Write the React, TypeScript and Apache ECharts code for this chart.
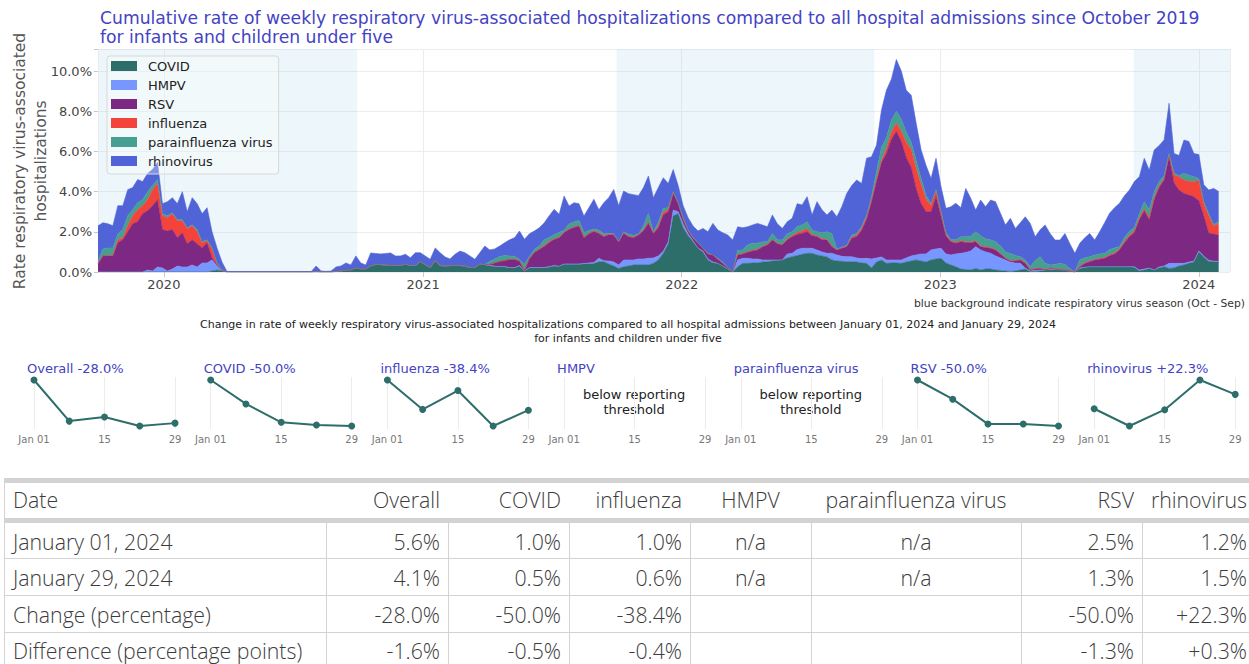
import React, { useEffect, useRef } from 'react';
import * as echarts from 'echarts';

// ---------- main chart data (weekly, first week = 2019-09-30) ----------
const FIRST_WEEK = [2019, 8, 30];
const AXIS_START = [2019, 8, 30];
const AXIS_END = [2024, 1, 14];

const covid = [
  0, 0, 0, 0, 0, 0, 0, 0, 0, 0,
  0, 0, 0, 0, 0, 0, 0, 0, 0, 0,
  0, 0, 0, 0.05, 0.1, 0.05, 0, 0, 0, 0,
  0, 0, 0, 0, 0, 0, 0, 0, 0, 0,
  0, 0, 0, 0, 0.02, 0, 0, 0, 0.03, 0.05,
  0.1, 0.1, 0.2, 0.15, 0.15, 0.3, 0.35, 0.35, 0.32, 0.3,
  0.3, 0.3, 0.38, 0.3, 0.3, 0.5, 0.35, 0.2, 0.55, 0.3,
  0.28, 0.3, 0.3, 0.3, 0.28, 0.2, 0.2, 0.38, 0.35, 0.3,
  0.28, 0.25, 0.25, 0.2, 0.2, 0.3, 0.05, 0.2, 0.2, 0.2,
  0.2, 0.25, 0.3, 0.27, 0.38, 0.38, 0.38, 0.38, 0.4, 0.4,
  0.42, 0.51, 0.51, 0.4, 0.3, 0.18, 0.26, 0.3, 0.35, 0.35,
  0.35, 0.35, 0.43, 0.6, 0.93, 1.4, 2.8, 2.9, 2.2, 1.8,
  1.51, 1.18, 1.0, 0.6, 0.45, 0.43, 0.3, 0.15, 0, 0.26,
  0.43, 0.43, 0.45, 0.45, 0.5, 0.51, 0.55, 0.58, 0.6, 0.7,
  0.76, 0.82, 0.88, 0.93, 0.93, 0.85, 0.8, 0.75, 0.6, 0.55,
  0.53, 0.51, 0.51, 0.5, 0.45, 0.43, 0.2, 0.5, 0.6, 0.43,
  0.45, 0.45, 0.43, 0.5, 0.55, 0.6, 0.55, 0.5, 0.6, 0.65,
  0.68, 0.45, 0.35, 0.26, 0.15, 0.12, 0.1, 0.18, 0.1, 0.15,
  0.15, 0.1, 0.08, 0.05, 0.03, 0.05, 0.1, 0.15, 0.02, 0.03,
  0.05, 0.1, 0.1, 0.1, 0.1, 0.08, 0.04, 0, 0.18, 0.22,
  0.26, 0.26, 0.26, 0.26, 0.26, 0.26, 0.26, 0.26, 0.26, 0.24,
  0.05, 0.1, 0.18, 0.1, 0.2, 0.26, 0.18, 0.2, 0.3, 0.35,
  0.43, 0.5, 1.0, 0.74, 0.54, 0.51, 0.5,
];

const hmpv = [
  0, 0, 0, 0, 0, 0, 0, 0, 0, 0,
  0.1, 0.05, 0.25, 0.2, 0.05, 0.15, 0.3, 0.25, 0.25, 0.35,
  0.25, 0.45, 0.45, 0.55, 0.2, 0.02, 0, 0, 0, 0,
  0, 0, 0, 0, 0, 0, 0, 0, 0, 0,
  0, 0, 0, 0, 0, 0, 0, 0, 0, 0,
  0, 0, 0, 0, 0, 0, 0.02, 0.03, 0.03, 0.03,
  0.03, 0.02, 0.02, 0.02, 0.02, 0.02, 0.02, 0.02, 0.02, 0.02,
  0.02, 0.02, 0.02, 0.02, 0.02, 0.02, 0.02, 0.02, 0.02, 0.02,
  0.02, 0.02, 0.02, 0.02, 0.02, 0.02, 0, 0.02, 0.02, 0.02,
  0.02, 0.02, 0.02, 0.02, 0.02, 0.02, 0.02, 0.02, 0.02, 0.05,
  0.05, 0.17, 0.05, 0.15, 0.2, 0.17, 0.34, 0.3, 0.25, 0.3,
  0.3, 0.33, 0.27, 0.2, 0.1, 0.1, 0.28, 0.1, 0.2, 0.1,
  0.04, 0.02, 0.05, 0.05, 0.05, 0, 0, 0, 0, 0.34,
  0.25, 0.25, 0.2, 0.2, 0.1, 0.09, 0.05, 0.02, 0, 0.2,
  0.17, 0.3, 0.3, 0.25, 0.25, 0.24, 0.2, 0.18, 0.33, 0.3,
  0.25, 0.25, 0.25, 0.2, 0.22, 0.25, 0.45, 0.2, 0.15, 0.17,
  0.15, 0.15, 0.17, 0.2, 0.25, 0.25, 0.35, 0.4, 0.5, 0.5,
  0.5, 0.45, 0.5, 0.64, 0.78, 0.85, 0.95, 1.08, 1.0, 0.85,
  0.78, 0.7, 0.62, 0.55, 0.45, 0.4, 0.33, 0.05, 0.03, 0.05,
  0.05, 0, 0.02, 0.02, 0, 0, 0, 0, 0.02, 0.02,
  0, 0, 0, 0, 0, 0, 0, 0, 0, 0.02,
  0.05, 0.05, 0.02, 0, 0.05, 0.04, 0.25, 0.23, 0.13, 0.08,
  0.07, 0.05, 0.05, 0.05, 0.05, 0.03, 0.03,
];

const rsv = [
  0.4, 0.8, 0.8, 0.8, 1.45, 1.6, 2.0, 2.4, 2.5, 2.9,
  2.95, 3.25, 3.35, 1.9, 2.0, 1.95, 1.4, 1.7, 1.15, 1.25,
  1.15, 0.75, 1.0, 0.1, 0.05, 0.01, 0, 0, 0, 0,
  0, 0, 0, 0, 0, 0, 0, 0, 0, 0,
  0, 0, 0, 0, 0, 0, 0, 0, 0, 0,
  0, 0, 0, 0, 0, 0, 0, 0, 0, 0,
  0, 0, 0, 0, 0, 0, 0, 0, 0, 0,
  0, 0, 0, 0, 0, 0, 0, 0, 0, 0.05,
  0.15, 0.25, 0.3, 0.4, 0.4, 0.23, 0, 0.45, 0.75, 0.9,
  1.05, 1.2, 1.3, 1.42, 1.56, 1.72, 1.82, 1.89, 1.29, 1.45,
  1.55, 1.24, 1.2, 1.3, 1.34, 1.16, 1.32, 1.15, 1.1, 1.19,
  1.4, 1.74, 1.22, 1.4, 1.81, 1.5, 0.83, 0.4, 0.2, 0.15,
  0.13, 0.23, 0.13, 0.25, 0.35, 0.2, 0.13, 0.05, 0, 0.25,
  0.22, 0.3, 0.4, 0.45, 0.65, 0.74, 0.99, 0.8, 0.74, 0.7,
  0.83, 0.75, 0.74, 0.82, 0.62, 0.67, 0.6, 0.66, 0.33, 0.24,
  0.4, 0.5, 0.92, 1.06, 1.4, 1.95, 2.85, 3.8, 4.7, 5.3,
  6.0, 6.4, 5.9, 5.0, 4.4, 3.3, 2.5, 2.1, 1.9, 2.6,
  1.6, 0.9, 0.66, 0.53, 0.58, 0.5, 0.4, 0.25, 0.16, 0.22,
  0.25, 0.29, 0.2, 0.08, 0.06, 0.1, 0.17, 0.23, 0.05, 0.07,
  0.08, 0, 0.06, 0.03, 0, 0.02, 0.02, 0, 0.06, 0.18,
  0.25, 0.34, 0.38, 0.42, 0.55, 0.64, 0.83, 1.2, 1.5, 1.7,
  2.5, 2.9, 2.4, 3.5, 3.95, 4.28, 5.31, 4.0, 3.65, 3.48,
  3.33, 3.2, 2.5, 2.0, 1.35, 1.35, 1.3,
];

const influenza = [
  0.05, 0, 0.02, 0.02, 0.15, 0.1, 0.3, 0.4, 0.6, 0.4,
  0.55, 0.8, 0.8, 0.7, 0.65, 0.8, 0.85, 0.6, 0.75, 0.7,
  0.6, 0.25, 0.1, 0.45, 0.05, 0.02, 0, 0, 0, 0,
  0, 0, 0, 0, 0, 0, 0, 0, 0, 0,
  0, 0, 0, 0, 0, 0, 0, 0, 0, 0,
  0, 0, 0, 0, 0, 0, 0, 0, 0, 0,
  0, 0, 0, 0, 0, 0, 0, 0, 0, 0,
  0, 0, 0, 0, 0, 0, 0, 0, 0, 0,
  0, 0, 0, 0, 0, 0, 0, 0, 0, 0.03,
  0.06, 0.05, 0.03, 0.02, 0.02, 0.02, 0.02, 0.02, 0.02, 0.02,
  0.02, 0.03, 0.03, 0.02, 0.02, 0, 0.03, 0.03, 0.03, 0,
  0.05, 0.05, 0.03, 0.08, 0.13, 0.1, 0.05, 0.02, 0.02, 0,
  0, 0, 0, 0, 0, 0, 0, 0, 0, 0.02,
  0.02, 0.02, 0.03, 0.03, 0.03, 0.03, 0.03, 0.03, 0.03, 0.05,
  0.05, 0.1, 0.12, 0.15, 0.05, 0.05, 0.05, 0.03, 0.03, 0,
  0.02, 0.02, 0.05, 0.08, 0.1, 0.1, 0.1, 0.1, 0.1, 0.25,
  0.35, 0.4, 0.5, 0.75, 0.9, 1.0, 0.95, 0.6, 0.35, 0.3,
  0.2, 0.05, 0.04, 0.05, 0.04, 0.04, 0.04, 0.04, 0.04, 0.04,
  0.04, 0.03, 0.03, 0.02, 0.03, 0.02, 0.02, 0.02, 0, 0.02,
  0.02, 0.02, 0.02, 0.02, 0.02, 0.02, 0.01, 0, 0.04, 0.04,
  0.04, 0.02, 0.03, 0.04, 0.05, 0.05, 0.06, 0.06, 0.07, 0.08,
  0.1, 0.1, 0.1, 0.1, 0.1, 0.05, 0.06, 0.4, 0.66, 0.67,
  0.67, 0.75, 1.0, 0.61, 0.86, 0.39, 0.6,
];

const parainfluenza = [
  0.1, 0.35, 0.38, 0.38, 0.3, 0.4, 0.5, 0.3, 0.35, 0.3,
  0.4, 0.2, 0.2, 0.1, 0.1, 0.05, 0.05, 0.05, 0.05, 0.05,
  0.1, 0.05, 0.05, 0.05, 0.05, 0, 0, 0, 0, 0,
  0, 0, 0, 0, 0, 0, 0, 0, 0, 0,
  0, 0, 0, 0, 0, 0, 0, 0, 0, 0,
  0, 0, 0, 0, 0, 0, 0, 0, 0, 0,
  0, 0, 0, 0, 0, 0, 0, 0, 0, 0,
  0, 0, 0, 0, 0, 0, 0, 0, 0, 0.15,
  0.2, 0.25, 0.25, 0.18, 0.17, 0.08, 0.33, 0.1, 0.15, 0.15,
  0.28, 0.2, 0.2, 0.25, 0.1, 0.25, 0.25, 0.25, 0.23, 0.15,
  0.1, 0.14, 0.11, 0.05, 0.05, 0.02, 0.05, 0.1, 0.1, 0.05,
  0.2, 0.45, 0.05, 0.2, 0.2, 0.1, 0.04, 0.03, 0.08, 0.05,
  0.04, 0.02, 0.02, 0.05, 0, 0.05, 0.07, 0.03, 0, 0.22,
  0.18, 0.35, 0.35, 0.3, 0.22, 0.14, 0.3, 0.17, 0.22, 0.25,
  0.19, 0.3, 0.3, 0.35, 0.24, 0.19, 0.3, 0.38, 0.63, 0.05,
  0.05, 0.05, 0.11, 0.08, 0.1, 0.1, 0.15, 0.4, 0.65, 0.55,
  0.6, 0.6, 0.6, 0.5, 0.35, 0.4, 0.3, 0.2, 0.05, 0.05,
  0.05, 0.1, 0.05, 0.12, 0.2, 0.25, 0.3, 0.45, 0.5, 0.4,
  0.38, 0.38, 0.37, 0.3, 0.35, 0.25, 0.14, 0.15, 0.16, 0.4,
  0.56, 0.31, 0.15, 0.2, 0.31, 0.25, 0.1, 0, 0.3, 0.25,
  0.21, 0.23, 0.23, 0.21, 0.26, 0.25, 0.11, 0.2, 0.2, 0.17,
  0.2, 0.35, 0.4, 0.3, 0.2, 0.17, 0.1, 0.1, 0.05, 0.33,
  0.32, 0.24, 0.1, 0.1, 0.1, 0.08, 0.08,
];

const rhinovirus = [
  1.75, 1.3, 1.2, 1.1, 1.4, 1.2, 1.3, 1.1, 1.15, 0.9,
  0.9, 0.8, 0.85, 0.5, 0.7, 0.75, 0.8, 1.4, 0.8, 1.35,
  1.3, 1.4, 1.6, 0.8, 0.75, 0.4, 0.03, 0.02, 0.02, 0.02,
  0.02, 0.02, 0.02, 0.02, 0.02, 0.02, 0.02, 0.02, 0.02, 0.02,
  0.02, 0.02, 0.02, 0.02, 0.28, 0.05, 0.03, 0.05, 0.22, 0.25,
  0.35, 0.25, 0.6, 0.3, 0.2, 0.65, 0.55, 0.52, 0.57, 0.62,
  0.47, 0.48, 0.48, 0.39, 0.64, 0.44, 0.43, 0.41, 0.63, 0.64,
  0.45, 0.33, 0.56, 0.72, 0.66, 0.58, 0.41, 0.56, 0.92, 0.58,
  0.5, 0.52, 0.63, 0.8, 0.92, 1.41, 1.25, 1.13, 0.92, 0.9,
  0.84, 1.08, 1.27, 0.89, 1.7, 0.89, 0.96, 0.84, 0.83, 1.13,
  1.48, 1.01, 1.55, 1.78, 2.2, 1.77, 2.03, 2.02, 2.02, 1.91,
  1.9, 1.86, 1.7, 1.72, 1.52, 1.2, 1.1, 0.85, 0.6, 0.6,
  0.57, 0.59, 0.97, 1.05, 1.57, 1.41, 1.45, 1.61, 1.59, 1.16,
  1.1, 0.9, 0.91, 0.99, 0.84, 0.74, 0.92, 0.8, 0.58, 0.6,
  0.67, 1.13, 1.0, 1.25, 0.75, 1.5, 1.15, 0.84, 1.16, 1.61,
  2.0, 2.58, 2.46, 2.66, 2.14, 2.83, 1.99, 1.32, 1.86, 2.35,
  2.05, 2.58, 2.4, 2.1, 2.35, 1.85, 1.42, 1.5, 1.26, 1.56,
  1.22, 1.22, 1.65, 1.82, 1.45, 2.4, 1.88, 1.08, 1.78, 1.59,
  1.98, 2.0, 1.62, 1.34, 1.75, 1.35, 1.69, 2.15, 2.16, 1.19,
  1.34, 1.91, 1.57, 1.22, 1.16, 1.55, 1.23, 0.93, 0.83, 0.99,
  1.16, 0.74, 1.1, 1.52, 1.8, 2.0, 2.16, 2.08, 2.05, 2.29,
  1.84, 2.16, 1.97, 2.07, 1.8, 1.77, 2.5, 0.97, 1.01, 1.66,
  1.68, 1.16, 1.2, 0.84, 1.18, 1.8, 1.5,
];

const seriesNames = ['COVID', 'HMPV', 'RSV', 'influenza', 'parainfluenza virus', 'rhinovirus'];
const seriesColors = ['#2e6e6a', '#7896ff', '#7d2882', '#f4433a', '#46a091', '#5064d7'];

// respiratory virus seasons (Oct - Sep)
const seasonStarts = [[2019, 9, 1], [2021, 9, 1], [2023, 9, 1]];
const seasonEnds = [[2020, 8, 30], [2022, 8, 30], [2024, 8, 30]];

const yTickValues = [0, 2, 4, 6, 8, 10];

// ---------- sparklines (Jan 01 .. Jan 29, 2024) ----------
const sparkDays = [0, 7, 14, 21, 28];
const sparkTitles = ['Overall -28.0%', 'COVID -50.0%', 'influenza -38.4%', 'HMPV', 'parainfluenza virus', 'RSV -50.0%', 'rhinovirus +22.3%'];
const sparkOverall = [5.6, 4.17, 4.31, 4.0, 4.1];
const sparkCovid = [1.0, 0.74, 0.54, 0.51, 0.5];
const sparkInfluenza = [1.0, 0.61, 0.86, 0.39, 0.6];
const sparkRsv = [2.5, 2.0, 1.35, 1.35, 1.3];
const sparkRhinovirus = [1.2, 0.84, 1.18, 1.8, 1.5];

// ---------- table ----------
const tableHeader = ['Date', 'Overall', 'COVID', 'influenza', 'HMPV', 'parainfluenza virus', 'RSV', 'rhinovirus'];
const rowJan01 = ['January 01, 2024', '5.6%', '1.0%', '1.0%', 'n/a', 'n/a', '2.5%', '1.2%'];
const rowJan29 = ['January 29, 2024', '4.1%', '0.5%', '0.6%', 'n/a', 'n/a', '1.3%', '1.5%'];
const rowChange = ['Change (percentage)', '-28.0%', '-50.0%', '-38.4%', '', '', '-50.0%', '+22.3%'];
const rowDifference = ['Difference (percentage points)', '-1.6%', '-0.5%', '-0.4%', '', '', '-1.3%', '+0.3%'];

const FONT = 'DejaVu Sans';
const TABLE_FONT = 'Open Sans';
const TITLE_BLUE = '#4343c4';

function ts(d: number[]) {
  return new Date(d[0], d[1], d[2]).getTime();
}

export default function App() {
  const ref = useRef<HTMLDivElement>(null);

  useEffect(() => {
    document.body.style.margin = '0';
    if (!ref.current) return;
    const chart = echarts.init(ref.current, undefined, { renderer: 'svg' });

    const weekDates = covid.map((_, i) => new Date(FIRST_WEEK[0], FIRST_WEEK[1], FIRST_WEEK[2] + 7 * i).getTime());
    const layers = [covid, hmpv, rsv, influenza, parainfluenza, rhinovirus];

    const grids: any[] = [{ left: 98, top: 49, width: 1132, height: 223 }];
    const xAxes: any[] = [
      {
        type: 'time',
        gridIndex: 0,
        min: ts(AXIS_START),
        max: ts(AXIS_END),
        minInterval: 364 * 86400000,
        maxInterval: 367 * 86400000,
        axisLine: { show: false },
        axisTick: { show: true, length: 5, lineStyle: { color: '#c8c8c8' } },
        axisLabel: { formatter: '{yyyy}', fontSize: 13, color: '#444', margin: 6, fontFamily: FONT, showMinLabel: false, showMaxLabel: false },
        splitLine: { show: true, lineStyle: { color: '#ececec' } },
      },
    ];
    const yAxes: any[] = [
      {
        type: 'value',
        gridIndex: 0,
        min: 0,
        max: 11.1,
        interval: 2,
        axisLine: { show: false },
        axisTick: { show: true, length: 4, lineStyle: { color: '#c8c8c8' } },
        axisLabel: {
          fontSize: 13,
          color: '#444',
          margin: 6,
          fontFamily: FONT,
          formatter: (v: number) => (yTickValues.indexOf(v) >= 0 ? v.toFixed(1) + '%' : ''),
        },
        splitLine: { show: true, lineStyle: { color: '#ececec' } },
      },
    ];

    const series: any[] = [];
    series.push({
      type: 'custom',
      xAxisIndex: 0,
      yAxisIndex: 0,
      z: 1,
      silent: true,
      data: seasonStarts.map((s, i) => [ts(s), ts(seasonEnds[i]), 0]),
      encode: { x: [0, 1], y: 2 },
      renderItem: (params: any, api: any) => {
        const cs = params.coordSys;
        const a = api.coord([api.value(0), 0]);
        const b = api.coord([api.value(1), 0]);
        const x1 = Math.max(a[0], cs.x);
        const x2 = Math.min(b[0], cs.x + cs.width);
        if (x2 <= x1) return null;
        return {
          type: 'rect',
          shape: { x: x1, y: cs.y, width: x2 - x1, height: cs.height },
          style: { fill: 'rgba(173,216,230,0.22)' },
        };
      },
    });

    layers.forEach((arr, k) => {
      series.push({
        name: seriesNames[k],
        type: 'line',
        xAxisIndex: 0,
        yAxisIndex: 0,
        stack: 'total',
        z: 2,
        symbol: 'none',
        showSymbol: false,
        smooth: false,
        color: seriesColors[k],
        lineStyle: { width: 0.6, color: seriesColors[k] },
        areaStyle: { color: seriesColors[k], opacity: 1 },
        emphasis: { disabled: true },
        data: arr.map((v, i) => [weekDates[i], v]),
      });
    });

    const sparkValues = [sparkOverall, sparkCovid, sparkInfluenza, null, null, sparkRsv, sparkRhinovirus];
    const PANEL_STEP = 176.7;
    const graphics: any[] = [];

    sparkValues.forEach((vals, i) => {
      const gi = i + 1;
      const left = 34 + PANEL_STEP * i;
      grids.push({ left, top: 377, width: 141, height: 52 });
      xAxes.push({
        type: 'value',
        gridIndex: gi,
        min: 0,
        max: 28,
        interval: 14,
        axisLine: { show: false },
        axisTick: { show: false },
        axisLabel: {
          fontSize: 10,
          color: '#777',
          margin: 5,
          fontFamily: FONT,
          showMinLabel: true,
          showMaxLabel: true,
          formatter: (v: number) => (v === 0 ? 'Jan 01' : String(v + 1)),
        },
        splitLine: { show: true, lineStyle: { color: '#ececec' } },
      });
      let mn = 0, mx = 1;
      if (vals) {
        const dMin = Math.min(...vals), dMax = Math.max(...vals);
        const pad = ((dMax - dMin) * 3) / 46;
        mn = dMin - pad;
        mx = dMax + pad;
      }
      yAxes.push({ type: 'value', gridIndex: gi, min: mn, max: mx, show: false, splitLine: { show: false } });
      if (vals) {
        series.push({
          name: 'spark' + i,
          type: 'line',
          xAxisIndex: gi,
          yAxisIndex: gi,
          clip: false,
          z: 5,
          symbol: 'circle',
          symbolSize: 7,
          color: '#2e6e6a',
          lineStyle: { width: 2, color: '#2e6e6a' },
          itemStyle: { color: '#2e6e6a' },
          emphasis: { disabled: true },
          data: vals.map((v, j) => [sparkDays[j], v]),
        });
      } else {
        graphics.push({
          type: 'text',
          x: 104 + PANEL_STEP * i,
          y: 402,
          style: { text: 'below reporting\nthreshold', fontSize: 13, lineHeight: 15, fill: '#222', fontFamily: FONT, align: 'center', verticalAlign: 'middle' },
        });
      }
      graphics.push({
        type: 'text',
        x: 27 + PANEL_STEP * i,
        y: 368,
        style: { text: sparkTitles[i], fontSize: 13, fill: TITLE_BLUE, fontFamily: FONT, align: 'left', verticalAlign: 'middle' },
      });
    });

    // y-axis title of the main chart
    graphics.push({
      type: 'text',
      x: 30,
      y: 161,
      rotation: Math.PI / 2,
      style: { text: 'Rate respiratory virus-associated\nhospitalizations', fontSize: 15.5, lineHeight: 21, fill: '#555', fontFamily: FONT, align: 'center', verticalAlign: 'middle' },
    });
    // caption
    graphics.push({
      type: 'text',
      x: 1245,
      y: 303,
      style: { text: 'blue background indicate respiratory virus season (Oct - Sep)', fontSize: 10.75, fill: '#333', fontFamily: FONT, align: 'right', verticalAlign: 'middle' },
    });
    // sparkline heading
    graphics.push({
      type: 'text',
      x: 628,
      y: 331,
      style: {
        text: 'Change in rate of weekly respiratory virus-associated hospitalizations compared to all hospital admissions between January 01, 2024 and January 29, 2024\nfor infants and children under five',
        fontSize: 11,
        lineHeight: 14,
        fill: '#222',
        fontFamily: FONT,
        align: 'center',
        verticalAlign: 'middle',
      },
    });

    // ---------- table ----------
    const colEdges = [4, 326, 448, 569, 690, 811, 1021, 1142, 1256];
    const colAlign = ['left', 'right', 'right', 'right', 'center', 'center', 'right', 'right'];
    const BORDER = '#d3d3d3';
    const tableRows = [rowJan01, rowJan29, rowChange, rowDifference];
    const rowCenters = [541, 577, 614, 650];

    graphics.push({ type: 'rect', shape: { x: 4, y: 478, width: 1245, height: 5 }, style: { fill: BORDER } });
    graphics.push({ type: 'rect', shape: { x: 4, y: 518, width: 1245, height: 5 }, style: { fill: BORDER } });
    graphics.push({ type: 'line', shape: { x1: 4.5, y1: 478, x2: 4.5, y2: 664 }, style: { stroke: BORDER, lineWidth: 1 } });
    [558.5, 595.5, 632.5].forEach((y) => {
      graphics.push({ type: 'line', shape: { x1: 4, y1: y, x2: 1249, y2: y }, style: { stroke: BORDER, lineWidth: 1 } });
    });
    colEdges.slice(1, 8).forEach((x) => {
      graphics.push({ type: 'line', shape: { x1: x + 0.5, y1: 523, x2: x + 0.5, y2: 664 }, style: { stroke: BORDER, lineWidth: 1 } });
    });

    const cellX = (c: number) => {
      const a = colAlign[c];
      if (a === 'left') return colEdges[c] + 9;
      if (a === 'center') return (colEdges[c] + colEdges[c + 1]) / 2;
      return Math.min(colEdges[c + 1] - 8, 1247);
    };
    const cellText = (text: string, c: number, y: number) => ({
      type: 'text',
      x: cellX(c),
      y,
      style: { text, fontSize: 21.3, fontWeight: 300, fill: '#3c3c3c', fontFamily: TABLE_FONT, align: colAlign[c], verticalAlign: 'middle' },
    });
    tableHeader.forEach((h, c) => graphics.push(cellText(h, c, 499)));
    tableRows.forEach((row, r) => row.forEach((t, c) => { if (t) graphics.push(cellText(t, c, rowCenters[r])); }));

    chart.setOption({
      animation: false,
      textStyle: { fontFamily: FONT },
      title: {
        text: 'Cumulative rate of weekly respiratory virus-associated hospitalizations compared to all hospital admissions since October 2019\nfor infants and children under five',
        left: 100,
        top: 8,
        padding: 0,
        textStyle: { fontSize: 17.2, lineHeight: 19, color: TITLE_BLUE, fontWeight: 'normal', fontFamily: FONT },
      },
      legend: {
        data: seriesNames,
        orient: 'vertical',
        left: 107,
        top: 56,
        icon: 'rect',
        itemWidth: 26,
        itemHeight: 10,
        itemGap: 5,
        padding: [3, 6, 6, 4],
        borderColor: '#d8d8d8',
        borderWidth: 1,
        borderRadius: 3,
        backgroundColor: 'rgba(255,255,255,0.3)',
        selectedMode: false,
        textStyle: { fontSize: 13, lineHeight: 14, color: '#222', fontFamily: FONT, padding: [0, 0, 0, 6] },
      },
      grid: grids,
      xAxis: xAxes,
      yAxis: yAxes,
      series,
      graphic: graphics,
    });

    return () => chart.dispose();
  }, []);

  return <div ref={ref} style={{ position: 'fixed', left: 0, top: 0, width: 1249, height: 664, background: '#fff' }} />;
}
